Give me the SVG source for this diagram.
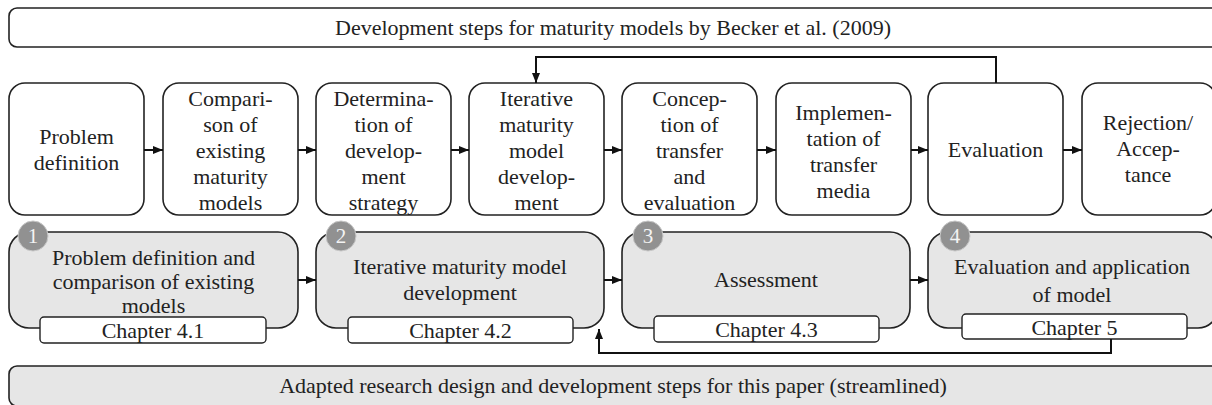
<svg xmlns="http://www.w3.org/2000/svg" width="1212" height="405" viewBox="0 0 1212 405" font-family="'Liberation Serif', 'DejaVu Serif', serif">
<style>
text{font-family:'Liberation Serif','DejaVu Serif',serif;font-size:22px;fill:#222;text-anchor:middle}
.box{fill:#fff;stroke:#222;stroke-width:1.6}
.gbox{fill:#e6e6e6;stroke:#222;stroke-width:1.6}
.lab{fill:#fff;stroke:#222;stroke-width:1.4}
.num circle{fill:#919191;stroke:#c8c8c8;stroke-width:1}
.num text{fill:#f4f4f4;font-size:21px}
.con{fill:none;stroke:#111;stroke-width:2}
</style>
<defs>
<marker id="ah" markerUnits="userSpaceOnUse" markerWidth="10" markerHeight="10" viewBox="0 0 10 10" refX="10" refY="5" orient="auto">
<path d="M0,1 L10,5 L0,9 z" fill="#111"/>
</marker>
</defs>

<g id="banner-top">
<rect class="box" x="9" y="8" width="1216" height="39" rx="8"/>
<text x="613" y="35">Development steps for maturity models by Becker et al. (2009)</text>
</g>

<g id="s1"><rect class="box" x="9" y="83" width="135" height="132" rx="16"/>
<text x="76.5"><tspan x="76.5" y="144">Problem</tspan><tspan x="76.5" y="170">definition</tspan></text></g>
<g id="s2"><rect class="box" x="163" y="83" width="135" height="132" rx="16"/>
<text><tspan x="230.5" y="106">Compari-</tspan><tspan x="230.5" y="132">son of</tspan><tspan x="230.5" y="158">existing</tspan><tspan x="230.5" y="184">maturity</tspan><tspan x="230.5" y="210">models</tspan></text></g>
<g id="s3"><rect class="box" x="316" y="83" width="135" height="132" rx="16"/>
<text><tspan x="383.5" y="106">Determina-</tspan><tspan x="383.5" y="132">tion of</tspan><tspan x="383.5" y="158">develop-</tspan><tspan x="383.5" y="184">ment</tspan><tspan x="383.5" y="210">strategy</tspan></text></g>
<g id="s4"><rect class="box" x="469" y="83" width="135" height="132" rx="16"/>
<text><tspan x="536.5" y="106">Iterative</tspan><tspan x="536.5" y="132">maturity</tspan><tspan x="536.5" y="158">model</tspan><tspan x="536.5" y="184">develop-</tspan><tspan x="536.5" y="210">ment</tspan></text></g>
<g id="s5"><rect class="box" x="622" y="83" width="135" height="132" rx="16"/>
<text><tspan x="689.5" y="106">Concep-</tspan><tspan x="689.5" y="132">tion of</tspan><tspan x="689.5" y="158">transfer</tspan><tspan x="689.5" y="184">and</tspan><tspan x="689.5" y="210">evaluation</tspan></text></g>
<g id="s6"><rect class="box" x="776" y="83" width="135" height="132" rx="16"/>
<text><tspan x="843.5" y="120">Implemen-</tspan><tspan x="843.5" y="146">tation of</tspan><tspan x="843.5" y="172">transfer</tspan><tspan x="843.5" y="198">media</tspan></text></g>
<g id="s7"><rect class="box" x="928" y="83" width="135" height="132" rx="16"/>
<text x="995.5" y="157">Evaluation</text></g>
<g id="s8"><rect class="box" x="1082" y="83" width="134" height="132" rx="16"/>
<text><tspan x="1148" y="130">Rejection/</tspan><tspan x="1148" y="156">Accep-</tspan><tspan x="1148" y="182">tance</tspan></text></g>

<g id="p1"><rect class="gbox" x="9" y="232" width="289" height="96" rx="20"/>
<text><tspan x="153.5" y="265">Problem definition and</tspan><tspan x="153.5" y="289">comparison of existing</tspan><tspan x="153.5" y="313">models</tspan></text>
<rect class="lab" x="40" y="317" width="226" height="26" rx="4"/>
<text x="153" y="338">Chapter 4.1</text>
<g class="num"><circle cx="33" cy="236" r="15"/><text x="33" y="243">1</text></g></g>

<g id="p2"><rect class="gbox" x="316" y="232" width="288" height="96" rx="20"/>
<text><tspan x="460" y="274">Iterative maturity model</tspan><tspan x="460" y="300">development</tspan></text>
<rect class="lab" x="348" y="317" width="225" height="26" rx="4"/>
<text x="460.5" y="338">Chapter 4.2</text>
<g class="num"><circle cx="341" cy="236" r="15"/><text x="341" y="243">2</text></g></g>

<g id="p3"><rect class="gbox" x="622" y="232" width="288" height="96" rx="20"/>
<text x="766" y="287">Assessment</text>
<rect class="lab" x="654" y="316" width="225" height="26" rx="4"/>
<text x="766.5" y="337">Chapter 4.3</text>
<g class="num"><circle cx="648" cy="236" r="15"/><text x="648" y="243">3</text></g></g>

<g id="p4"><rect class="gbox" x="928" y="232" width="290" height="96" rx="20"/>
<text><tspan x="1072" y="274">Evaluation and application</tspan><tspan x="1072" y="302">of model</tspan></text>
<rect class="lab" x="962" y="314" width="225" height="25" rx="4"/>
<text x="1074.5" y="335">Chapter 5</text>
<g class="num"><circle cx="955" cy="236" r="15"/><text x="955" y="243">4</text></g></g>

<g id="banner-bottom">
<rect class="gbox" x="9" y="366" width="1216" height="40" rx="8"/>
<text x="613" y="393">Adapted research design and development steps for this paper (streamlined)</text>
</g>

<g id="connectors">
<path class="con" d="M144,150 H163" marker-end="url(#ah)"/>
<path class="con" d="M298,150 H316" marker-end="url(#ah)"/>
<path class="con" d="M451,150 H469" marker-end="url(#ah)"/>
<path class="con" d="M604,150 H622" marker-end="url(#ah)"/>
<path class="con" d="M757,150 H776" marker-end="url(#ah)"/>
<path class="con" d="M911,150 H928" marker-end="url(#ah)"/>
<path class="con" d="M1063,150 H1082" marker-end="url(#ah)"/>
<path class="con" d="M996,83 V57 H536 V83" marker-end="url(#ah)"/>
<path class="con" d="M298,280 H316" marker-end="url(#ah)"/>
<path class="con" d="M604,280 H622" marker-end="url(#ah)"/>
<path class="con" d="M910,280 H928" marker-end="url(#ah)"/>
<path class="con" d="M1111,339 V353 H599 V329" marker-end="url(#ah)"/>
</g>
</svg>
